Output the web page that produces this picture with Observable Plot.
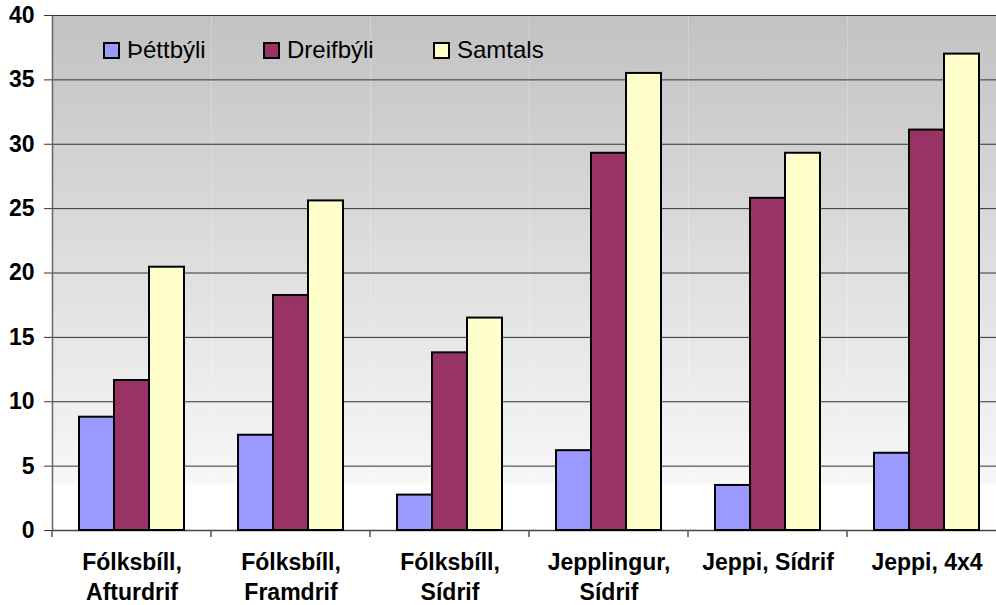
<!DOCTYPE html>
<html>
<head>
<meta charset="utf-8">
<script src="https://cdn.jsdelivr.net/npm/d3@7"></script>
<script src="https://cdn.jsdelivr.net/npm/@observablehq/plot@0.6"></script>
<style>
  html, body { margin: 0; padding: 0; background: #fff; overflow: hidden; }
  #wrap { position: relative; width: 996px; height: 605px; overflow: hidden; }
  #wrap svg { max-width: none !important; }
  #legend { position: absolute; left: 0; top: 0; font-family: Arial, "Liberation Sans", sans-serif; font-size: 24px; color: #000; }
  .item { position: absolute; top: 36px; display: flex; align-items: center; white-space: nowrap; }
  .sw { width: 13px; height: 13px; border: 2px solid #000; margin-right: 7px; }
</style>
</head>
<body>
<div id="wrap"><div id="legend"></div></div>
<script>
const categories = ["Fólksbíll,\nAfturdrif", "Fólksbíll,\nFramdrif", "Fólksbíll,\nSídrif", "Jepplingur,\nSídrif", "Jeppi, Sídrif", "Jeppi, 4x4"];
const series = ["Þéttbýli", "Dreifbýli", "Samtals"];
const thettbyli = [8.8, 7.4, 2.75, 6.2, 3.5, 6.0];
const dreifbyli = [11.65, 18.25, 13.8, 29.3, 25.8, 31.1];
const samtals = [20.45, 25.6, 16.5, 35.5, 29.3, 37.0];
const colors = ["#9999FF", "#993366", "#FFFFCC"];
const yTicks = [0, 5, 10, 15, 20, 25, 30, 35, 40];
const legendLeft = [103, 263, 433];

const valuesBySeries = [thettbyli, dreifbyli, samtals];
const data = [];
series.forEach((s, si) => categories.forEach((c, ci) => data.push({category: c, series: s, value: valuesBySeries[si][ci]})));

const NS = "http://www.w3.org/2000/svg";
function gradientDefs() {
  const defs = document.createElementNS(NS, "defs");
  const lg = document.createElementNS(NS, "linearGradient");
  lg.setAttribute("id", "bggrad");
  lg.setAttribute("x1", "0"); lg.setAttribute("y1", "0");
  lg.setAttribute("x2", "0"); lg.setAttribute("y2", "1");
  [["0", "#c2c2c2"], ["0.905", "#f7f7f7"], ["0.915", "#ffffff"], ["1", "#ffffff"]].forEach(([o, c]) => {
    const st = document.createElementNS(NS, "stop");
    st.setAttribute("offset", o); st.setAttribute("stop-color", c);
    lg.appendChild(st);
  });
  defs.appendChild(lg);
  return defs;
}
function boundaryTicks(index, scales) {
  const g = document.createElementNS(NS, "g");
  const x0 = scales.x.range()[0];
  const y0 = scales.y(0);
  const line = document.createElementNS(NS, "line");
  line.setAttribute("x1", x0); line.setAttribute("x2", x0);
  line.setAttribute("y1", y0); line.setAttribute("y2", y0 + 7);
  line.setAttribute("stroke", "#555"); line.setAttribute("stroke-width", 1.5);
  g.appendChild(line);
  return g;
}

const chart = Plot.plot({
  width: 1006,
  height: 605,
  marginLeft: 52,
  marginRight: 0,
  marginTop: 15,
  marginBottom: 75,
  style: {fontFamily: "Arial, 'Liberation Sans', sans-serif", background: "transparent", overflow: "visible", color: "#000", maxWidth: "none"},
  fx: {domain: categories, padding: 0, label: null},
  x: {domain: series, paddingInner: 0, paddingOuter: 0.71, axis: null},
  y: {domain: [0, 40], label: null},
  color: {domain: series, range: colors},
  marks: [
    () => gradientDefs(),
    Plot.frame({fill: "url(#bggrad)", stroke: null}),
    Plot.gridY(yTicks, {stroke: "#333", strokeOpacity: 1, strokeWidth: 1}),
    Plot.ruleY([0], {stroke: "#444", strokeWidth: 1.5}),
    Plot.barY(data, {fx: "category", x: "series", y: "value", fill: "series", stroke: "#000", strokeWidth: 2, inset: 0}),
    boundaryTicks,
    Plot.frame({anchor: "left", facetAnchor: "left", stroke: "#666", strokeWidth: 1.5}),
    Plot.axisY(yTicks, {tickSize: 8, tickPadding: 10, fontSize: 23, fontWeight: "bold", stroke: "#333", label: null}),
    Plot.axisFx({anchor: "bottom", tickSize: 0, tickPadding: 18, fontSize: 23, fontWeight: "bold", lineHeight: 1.3, label: null})
  ]
});
document.getElementById("wrap").appendChild(chart);

const legend = document.getElementById("legend");
series.forEach((s, i) => {
  const item = document.createElement("div");
  item.className = "item";
  item.style.left = legendLeft[i] + "px";
  const sw = document.createElement("span");
  sw.className = "sw";
  sw.style.background = colors[i];
  const t = document.createElement("span");
  t.textContent = s;
  item.appendChild(sw); item.appendChild(t);
  legend.appendChild(item);
});
document.getElementById("wrap").appendChild(legend);
</script>
</body>
</html>
